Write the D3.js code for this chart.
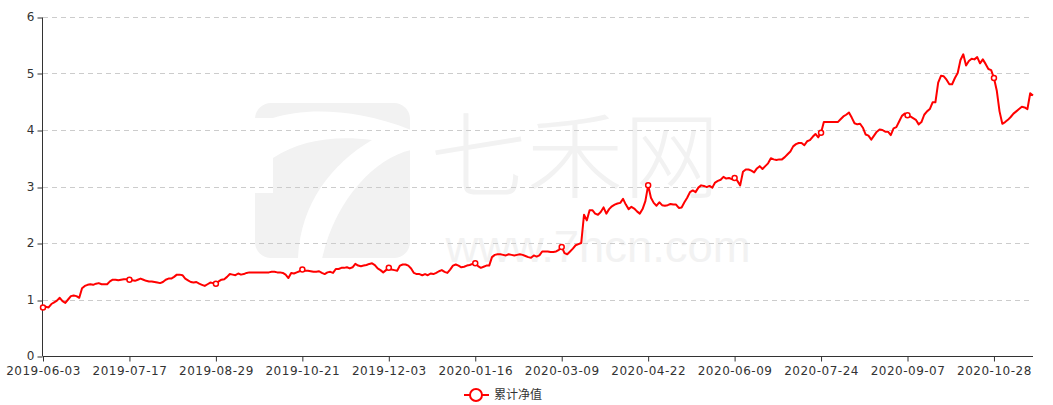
<!DOCTYPE html>
<html>
<head>
<meta charset="utf-8">
<script src="https://cdn.jsdelivr.net/npm/d3@7"></script>
<style>
  html, body { margin: 0; padding: 0; background: #fff; }
  svg { display: block; }
</style>
</head>
<body>
<svg id="chart" width="1053" height="405"></svg>
<script>
// ---- data ----
const seriesName = "累计净值";
const tickLabels = ["2019-06-03", "2019-07-17", "2019-08-29", "2019-10-21", "2019-12-03", "2020-01-16",
  "2020-03-09", "2020-04-22", "2020-06-09", "2020-07-24", "2020-09-07", "2020-10-28"];
const yTicks = [0, 1, 2, 3, 4, 5, 6];
const navValues = [
  0.86, 0.87, 0.86, 0.92, 0.95, 0.98, 1.03, 0.97, 0.94, 1.00,
  1.06, 1.07, 1.06, 1.03, 1.20, 1.24, 1.26, 1.27, 1.26, 1.28,
  1.29, 1.27, 1.27, 1.27, 1.32, 1.35, 1.35, 1.34, 1.35, 1.36,
  1.36, 1.35, 1.34, 1.33, 1.35, 1.37, 1.35, 1.33, 1.32, 1.32,
  1.31, 1.30, 1.29, 1.31, 1.35, 1.37, 1.37, 1.40, 1.44, 1.44,
  1.43, 1.37, 1.34, 1.31, 1.30, 1.31, 1.28, 1.26, 1.24, 1.27,
  1.30, 1.29, 1.28, 1.32, 1.35, 1.36, 1.40, 1.45, 1.44, 1.43,
  1.46, 1.44, 1.45, 1.47, 1.48, 1.48, 1.48, 1.48, 1.48, 1.48,
  1.48, 1.48, 1.49, 1.49, 1.48, 1.48, 1.47, 1.44, 1.38, 1.47,
  1.46, 1.48, 1.50, 1.53, 1.51, 1.51, 1.50, 1.49, 1.49, 1.50,
  1.47, 1.45, 1.48, 1.49, 1.47, 1.54, 1.54, 1.56, 1.56, 1.57,
  1.55, 1.57, 1.63, 1.60, 1.59, 1.60, 1.61, 1.63, 1.64, 1.61,
  1.55, 1.52, 1.48, 1.52, 1.56, 1.53, 1.52, 1.51, 1.60, 1.62,
  1.62, 1.60, 1.55, 1.47, 1.45, 1.45, 1.43, 1.45, 1.43, 1.46,
  1.45, 1.47, 1.50, 1.52, 1.49, 1.47, 1.53, 1.60, 1.62, 1.60,
  1.57, 1.58, 1.60, 1.61, 1.63, 1.64, 1.59, 1.56, 1.58, 1.60,
  1.60, 1.75, 1.79, 1.80, 1.80, 1.79, 1.78, 1.80, 1.79, 1.78,
  1.79, 1.80, 1.79, 1.77, 1.75, 1.74, 1.78, 1.76, 1.78, 1.85,
  1.85, 1.85, 1.84, 1.84, 1.85, 1.88, 1.93, 1.82, 1.80, 1.85,
  1.90, 1.96, 1.98, 2.00, 2.50, 2.40, 2.58, 2.58, 2.52, 2.50,
  2.55, 2.63, 2.52, 2.60, 2.65, 2.68, 2.70, 2.71, 2.78, 2.68,
  2.60, 2.64, 2.61, 2.56, 2.52, 2.60, 2.74, 3.02, 2.80, 2.71,
  2.66, 2.72, 2.67, 2.66, 2.67, 2.69, 2.68, 2.68, 2.62, 2.63,
  2.72, 2.80, 2.90, 2.93, 2.90, 2.98, 3.02, 3.01, 2.99, 3.01,
  2.98, 3.07, 3.10, 3.12, 3.17, 3.14, 3.15, 3.13, 3.15, 3.10,
  3.02, 3.26, 3.30, 3.30, 3.28, 3.25, 3.32, 3.36, 3.31, 3.36,
  3.41, 3.50, 3.48, 3.47, 3.48, 3.48, 3.52, 3.57, 3.62, 3.71,
  3.75, 3.77, 3.77, 3.73, 3.80, 3.82, 3.88, 3.93, 3.87, 3.95,
  4.14, 4.14, 4.14, 4.14, 4.14, 4.14, 4.19, 4.24, 4.27, 4.31,
  4.22, 4.12, 4.10, 4.11, 4.04, 3.92, 3.90, 3.83, 3.90, 3.97,
  4.01, 4.00, 3.97, 3.97, 3.91, 4.03, 4.05, 4.15, 4.25, 4.29,
  4.26, 4.24, 4.21, 4.18, 4.10, 4.14, 4.27, 4.33, 4.37, 4.49,
  4.49, 4.84, 4.96, 4.95, 4.89, 4.81, 4.81, 4.92, 5.01, 5.24,
  5.34, 5.14, 5.22, 5.26, 5.25, 5.29, 5.18, 5.25, 5.17, 5.08,
  5.06, 4.92, 4.70, 4.33, 4.11, 4.14, 4.18, 4.23, 4.29, 4.33,
  4.37, 4.41, 4.40, 4.37, 4.65, 4.61
];
const labelInterval = 31;

// ---- layout ----
const W = 1053, H = 405;
const margin = { left: 43, right: 20, top: 17, bottom: 49 };
const svg = d3.select("#chart");

const x = d3.scalePoint()
  .domain(d3.range(navValues.length))
  .range([margin.left, W - margin.right]);
const y = d3.scaleLinear()
  .domain([0, 6])
  .range([H - margin.bottom, margin.top]);

// ---- watermark ----
const wm = svg.append("g").attr("class", "watermark");
const wmColor = "#f2f2f2";
wm.append("rect").attr("x", 255).attr("y", 103).attr("width", 155).attr("height", 155)
  .attr("rx", 16).attr("fill", wmColor);
wm.append("rect").attr("x", 254).attr("y", 118).attr("width", 19).attr("height", 75).attr("fill", "#fff");
wm.append("path")
  .attr("d", "M273,118 C305,108 355,108 411,130 L411,150 C375,158 335,200 322,259 L298,259 C300,205 330,165 372,140 C335,135 300,140 273,158 Z")
  .attr("fill", "#fff");
wm.append("text").attr("x", 575).attr("y", 191).attr("text-anchor", "middle")
  .attr("font-family", "'Noto Sans CJK SC', sans-serif").attr("font-size", 94)
  .attr("font-weight", 300).attr("lengthAdjust", "spacingAndGlyphs")
  .attr("fill", wmColor).attr("textLength", 290).text("七禾网");
wm.append("text").attr("x", 598).attr("y", 262).attr("text-anchor", "middle")
  .attr("font-family", "'Liberation Sans', sans-serif").attr("font-size", 44)
  .attr("lengthAdjust", "spacingAndGlyphs")
  .attr("fill", wmColor).attr("textLength", 305).text("www.7hcn.com");

// ---- grid ----
const crisp = v => Math.round(v) + 0.5;
svg.append("g").selectAll("line").data(yTicks.filter(d => d > 0)).join("line")
  .attr("x1", margin.left).attr("x2", W - margin.right)
  .attr("y1", d => crisp(y(d))).attr("y2", d => crisp(y(d)))
  .attr("stroke", "#ccc").attr("stroke-dasharray", "5,4").attr("stroke-width", 1);

// ---- axes ----
const axisColor = "#333";
const labelColor = "#333";
const fontFam = "'DejaVu Sans', sans-serif";

const yAxis = d3.axisLeft(y).tickValues(yTicks).tickSize(5).tickPadding(3).tickFormat(d3.format("d"));
const gy = svg.append("g").attr("transform", `translate(${crisp(margin.left) - 1},0)`).call(yAxis);
gy.select(".domain").attr("stroke", axisColor).attr("d", `M0,${crisp(y(6))}V${crisp(y(0))}`);
gy.selectAll(".tick line").attr("stroke", axisColor).attr("transform", function(d){ return `translate(0,${crisp(y(d)) - y(d)})`; });
gy.selectAll(".tick text").attr("fill", labelColor).attr("font-family", fontFam).attr("font-size", 12);

const xTickIdx = tickLabels.map((_, i) => i * labelInterval);
const xAxis = d3.axisBottom(x).tickValues(xTickIdx).tickSize(5).tickPadding(5)
  .tickFormat(d => tickLabels[d / labelInterval]);
const gx = svg.append("g").attr("transform", `translate(0,${crisp(y(0))})`).call(xAxis);
gx.select(".domain").attr("stroke", axisColor).attr("d", `M${margin.left},0H${W - margin.right}`);
gx.selectAll(".tick line").attr("stroke", axisColor);
gx.selectAll(".tick text").attr("fill", labelColor).attr("font-family", fontFam).attr("font-size", 12)
  .attr("letter-spacing", 0.5);

// ---- line ----
const red = "#ff0000";
const line = d3.line().x((d, i) => x(i)).y(d => y(d));
svg.append("path").datum(navValues)
  .attr("d", line).attr("fill", "none").attr("stroke", red)
  .attr("stroke-width", 2).attr("stroke-linejoin", "round");

svg.append("g").selectAll("circle")
  .data(navValues.map((v, i) => ({ v, i })).filter(d => d.i % labelInterval === 0))
  .join("circle")
  .attr("cx", d => x(d.i)).attr("cy", d => y(d.v)).attr("r", 2.5)
  .attr("fill", "#fff").attr("stroke", red).attr("stroke-width", 1.5);

// ---- legend ----
const lg = svg.append("g").attr("transform", "translate(476,395)");
lg.append("line").attr("x1", -12).attr("x2", 13).attr("y1", 0).attr("y2", 0)
  .attr("stroke", red).attr("stroke-width", 2);
lg.append("circle").attr("r", 6).attr("fill", "#fff").attr("stroke", red).attr("stroke-width", 2);
lg.append("text").attr("x", 18).attr("y", 0).attr("dy", "0.35em")
  .attr("font-family", "'Noto Sans CJK SC', sans-serif").attr("font-size", 12)
  .attr("fill", labelColor).text(seriesName);
</script>
</body>
</html>
